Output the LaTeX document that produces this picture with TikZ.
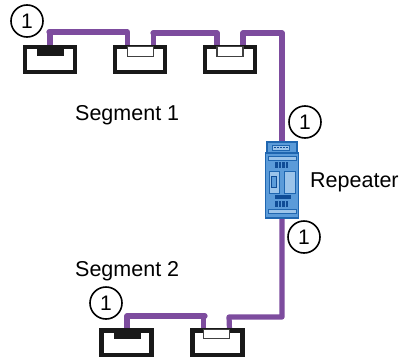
\documentclass[tikz,border=0pt]{standalone}
\usepackage{fontspec}
\usetikzlibrary{backgrounds}
\setmainfont{Liberation Sans}
\definecolor{bus}{HTML}{7D4C9E}
\definecolor{repfill}{HTML}{5B9BD9}
\definecolor{repedge}{HTML}{1F66B0}
\definecolor{replight}{HTML}{9CC4EA}
\definecolor{repdark}{HTML}{0F4C96}
\tikzset{
  x=1pt,y=-1pt,
  devbox/.style={draw=black!90,line width=4.2pt,fill=white,minimum width=50pt,minimum height=25pt,inner sep=0pt,outer sep=0pt},
  plugon/.style={draw=black!75,line width=1.3pt,fill=white,minimum width=26pt,minimum height=9.5pt,inner sep=0pt,outer sep=0pt},
  plugoff/.style={fill=black!90,minimum width=27pt,minimum height=10pt,inner sep=0pt,outer sep=0pt},
  busline/.style={draw=bus,line width=5.2pt,line join=round},
  callout/.style={draw=black,line width=1.6pt,circle,minimum size=32pt,inner sep=0pt,font=\fontsize{21}{21}\selectfont,fill=white},
  lbl/.style={font=\fontsize{21.5}{25}\selectfont,inner sep=0pt,anchor=west},
  repbody/.style={draw=repedge,line width=1.3pt,fill=repfill,inner sep=0pt,outer sep=0pt},
  reppart/.style={draw=repedge,line width=.8pt,fill=replight,inner sep=0pt},
  repdot/.style={fill=repdark,inner sep=0pt,minimum width=2.2pt,minimum height=5.5pt},
}
\begin{document}
\begin{tikzpicture}
\useasboundingbox (0,0) rectangle (403,356);
% devices
\node[devbox] (d1) at (50,59.5) {};
\node[devbox] (d2) at (140,59.5) {};
\node[devbox] (d3) at (230,59.5) {};
\node[devbox] (d4) at (126.5,343) {};
\node[devbox] (d5) at (217.5,343) {};
\node[plugoff] (p1) at (50,51) {};
\node[plugon] (p2) at (140.5,51.5) {};
\node[plugon] (p3) at (230,51.5) {};
\node[plugoff] (p4) at (127,334) {};
\node[plugon] (p5) at (216.5,334) {};
% repeater
\node[repbody,minimum width=30pt,minimum height=11pt] (rtop) at (282,147.5) {};
\node[repbody,minimum width=33pt,minimum height=65pt] (rep) at (282,185.5) {};
% bus
\coordinate (t1) at (49,32);
\coordinate (t2) at (153,33);
\coordinate (t3) at (243,33);
\coordinate (rt) at (282,33);
\coordinate (rb) at (282,317);
\coordinate (b1) at (229,317);
\coordinate (b2) at (205,316);
\coordinate (b3) at (127,316);
\begin{scope}[on background layer]
\draw[busline] (p1.north) |- (t1) -| (p2.north west);
\draw[busline] (p2.north east) |- (t2) -| (p3.north west);
\draw[busline] (p3.north east) |- (t3) -- (rt) -- (rtop.north -| rt);
\draw[busline] (rep.south -| rb) -- (rb) -- (b1) -- (p5.north east);
\draw[busline] (p5.north west) |- (b2) -- (b3) -- (p4.north);
\end{scope}
% repeater details
\node[reppart,minimum width=17pt,minimum height=5pt] (rt1) at (281,147.5) {};
\node[reppart,minimum width=28pt,minimum height=3.5pt] (rb1) at (282,158.5) {};
\node[reppart,minimum width=28pt,minimum height=3.5pt] (rb2) at (282,211.5) {};
\node[reppart,minimum width=10pt,minimum height=22pt] (rc1) at (274,182) {};
\node[reppart,minimum width=11pt,minimum height=22pt] (rc2) at (289.5,182) {};
\node[fill=repdark,inner sep=0pt,minimum width=16pt,minimum height=4pt] (rbar) at (283,197) {};
\foreach \xx in {276.5,280,283.5,287}{
  \node[repdot] at (\xx,165) {};
  \node[repdot] at (\xx,204) {};
}
\foreach \xx in {275,278,281,284,287}{
  \node[fill=repdark,inner sep=0pt,minimum size=1.6pt] at (\xx,147.5) {};
}
\node[draw=repdark,line width=.8pt,fill=repfill,inner sep=0pt,minimum width=4.5pt,minimum height=11pt] (rsub) at (274,182) {};
% callouts
\node[callout] (c1) at (27,21) {1};
\node[callout] (c2) at (305,122) {1};
\node[callout] (c3) at (304,237) {1};
\node[callout] (c4) at (106,303) {1};
% labels
\node[lbl] (s1) at (75,115) {Segment 1};
\node[lbl] (s2) at (75,271) {Segment 2};
\node[lbl] (r) at (310,182) {Repeater};
\end{tikzpicture}
\end{document}
